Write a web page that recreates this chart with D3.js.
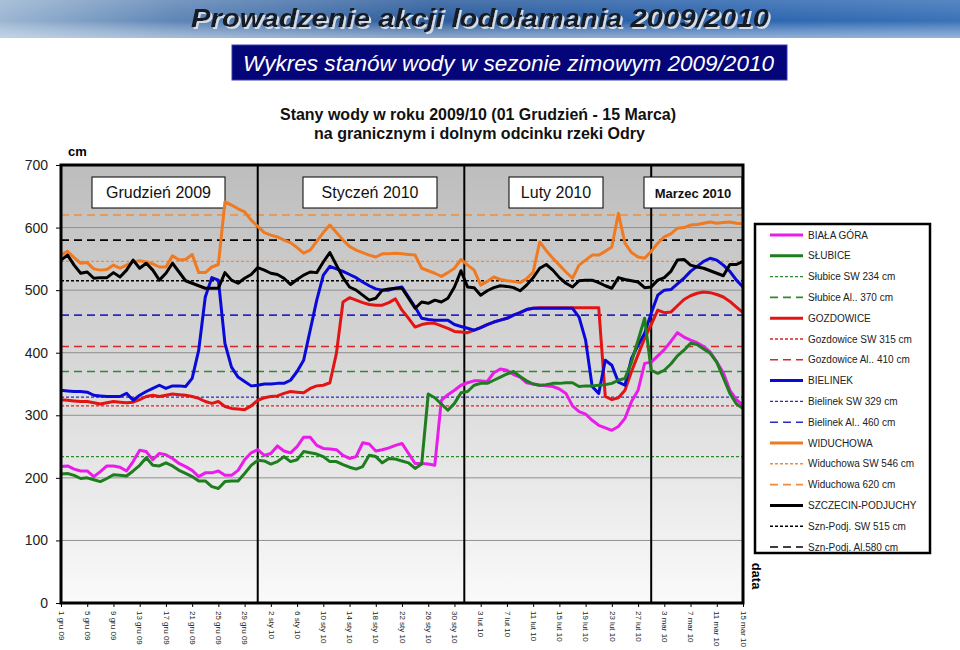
<!DOCTYPE html>
<html>
<head>
<meta charset="utf-8">
<script src="https://cdnjs.cloudflare.com/ajax/libs/d3/7.8.5/d3.min.js"></script>
<style>
  body { margin: 0; background: #fff; }
  svg { display: block; font-family: "Liberation Sans", Arial, sans-serif; }
</style>
</head>
<body>
<div id="chart"></div>
<script>
// ---- data (one value per day, 1 Dec 2009 - 15 Mar 2010) ----
var bialaGora = [218,219,214,211,211,202,210,219,219,217,211,226,244,242,229,239,237,231,223,218,
  212,202,208,208,211,204,204,212,229,240,245,236,239,251,243,240,250,265,265,252,
  247,246,245,236,231,234,256,254,243,245,248,252,255,239,223,223,222,220,324,333,
  340,348,352,355,355,354,368,374,372,365,361,352,350,348,347,346,342,335,315,306,
  302,292,284,280,276,282,295,322,340,383,385,395,405,418,432,425,420,416,410,401,
  385,368,340,325,316];
var slubice = [206,207,204,199,200,197,194,199,205,204,203,211,220,232,220,219,224,219,212,207,
  202,195,195,186,183,194,195,195,207,220,228,227,222,226,234,226,229,242,240,238,
  234,226,226,221,217,214,218,236,234,224,231,230,227,224,215,222,334,328,318,308,
  319,336,338,348,351,351,356,361,366,370,362,355,350,348,349,351,351,352,352,346,
  347,347,348,349,351,356,359,385,420,455,372,367,372,382,395,404,415,413,406,399,
  385,360,335,318,311];
var gozdowice = [325,324,323,322,322,320,318,320,322,321,320,321,325,330,332,330,332,334,333,332,
  330,327,322,319,322,314,311,310,309,315,324,328,330,331,335,338,337,336,343,347,
  348,352,399,481,488,484,480,477,476,476,480,486,468,455,441,445,447,447,443,439,
  434,433,432,436,440,445,449,452,455,460,464,469,471,472,472,472,472,472,472,472,
  472,472,472,330,325,328,340,370,397,423,445,468,464,465,475,485,491,495,497,496,
  493,489,482,473,464];
var bielinek = [340,339,338,338,337,332,331,330,330,330,335,324,332,338,343,348,343,347,347,346,
  359,404,489,520,516,415,377,361,354,347,348,350,350,351,351,356,370,388,436,484,
  524,538,534,530,525,520,513,507,502,500,500,503,505,489,473,455,453,452,452,452,
  445,442,439,436,440,445,449,452,455,460,464,469,471,471,471,471,471,471,471,457,
  420,346,335,388,380,353,348,391,412,431,463,492,500,501,510,519,530,538,546,551,
  548,540,530,516,505];
var widuchowa = [556,562,552,543,544,534,532,533,540,535,540,545,547,545,542,537,537,555,548,549,
  557,528,528,537,541,641,636,630,625,612,602,592,588,585,580,576,568,559,564,578,
  592,604,592,580,570,564,560,556,553,558,558,559,558,557,556,535,531,527,522,528,
  535,549,540,532,508,514,521,517,515,514,512,518,529,577,563,551,540,529,519,540,
  548,556,556,562,569,623,575,560,553,551,562,575,585,590,599,600,604,605,607,609,
  607,608,609,607,606];
var szczecinPodjuchy = [548,556,540,527,529,519,520,520,528,521,532,548,535,543,532,516,527,543,529,515,
  511,507,503,503,503,528,516,511,519,525,536,532,527,525,519,509,517,524,529,528,
  545,560,540,520,505,500,492,484,487,500,502,503,503,487,471,481,479,484,481,487,
  505,531,505,504,492,499,504,507,506,504,499,508,520,535,541,532,520,511,505,515,
  516,516,512,507,503,520,517,515,513,504,505,516,520,530,548,549,540,537,535,531,
  527,523,541,541,546];

var stationNames = ["BIAŁA GÓRA", "SŁUBICE", "GOZDOWICE", "BIELINEK", "WIDUCHOWA", "SZCZECIN-PODJUCHY"];
// warning (SW) and alarm (Al.) levels, cm
var warningLevels = [null, 234, 315, 329, 546, 515];
var alarmLevels = [null, 370, 410, 460, 620, 580];
var warningLabels = [null, "Słubice SW 234 cm", "Gozdowice SW 315 cm", "Bielinek SW 329 cm", "Widuchowa SW 546 cm", "Szn-Podj. SW 515 cm"];
var alarmLabels = [null, "Słubice Al.. 370 cm", "Gozdowice Al.. 410 cm", "Bielinek Al.. 460 cm", "Widuchowa 620 cm", "Szn-Podj. Al.580 cm"];

var tickLabels = ["1 gru 09","5 gru 09","9 gru 09","13 gru 09","17 gru 09","21 gru 09","25 gru 09","29 gru 09",
  "2 sty 10","6 sty 10","10 sty 10","14 sty 10","18 sty 10","22 sty 10","26 sty 10","30 sty 10",
  "3 lut 10","7 lut 10","11 lut 10","15 lut 10","19 lut 10","23 lut 10","27 lut 10",
  "3 mar 10","7 mar 10","11 mar 10","15 mar 10"];
var yTicks = [0, 100, 200, 300, 400, 500, 600, 700];
var monthLabels = ["Grudzień 2009", "Styczeń 2010", "Luty 2010", "Marzec 2010"];

// ---- layout ----
var svgWidth = 960;
var svgHeight = 650;
var plot = { left: 61, top: 165, width: 682, height: 438 };

var colors = ["#ea1cea", "#1e7d1e", "#e31414", "#0a0ad8", "#f07a22", "#000000"];
var refColors = ["#000", "#2f8a2f", "#d22a2a", "#2a2ac2", "#f08c3c", "#000000"];

var svg = d3.select("#chart")
  .append("svg")
  .attr("width", svgWidth)
  .attr("height", svgHeight);

var defs = svg.append("defs");

// banner gradient (sky)
var bannerGrad = defs.append("linearGradient").attr("id", "banner").attr("x1", 0).attr("x2", 1).attr("y1", 0).attr("y2", 0);
bannerGrad.append("stop").attr("offset", "0%").attr("stop-color", "#9cb6d2");
bannerGrad.append("stop").attr("offset", "18%").attr("stop-color", "#5f86b6");
bannerGrad.append("stop").attr("offset", "45%").attr("stop-color", "#2c5c9c");
bannerGrad.append("stop").attr("offset", "75%").attr("stop-color", "#2b64ae");
bannerGrad.append("stop").attr("offset", "100%").attr("stop-color", "#3a72b8");

var hazeGrad = defs.append("linearGradient").attr("id", "haze").attr("x1", 0).attr("x2", 0).attr("y1", 0).attr("y2", 1);
hazeGrad.append("stop").attr("offset", "0%").attr("stop-color", "#ffffff").attr("stop-opacity", 0.15);
hazeGrad.append("stop").attr("offset", "55%").attr("stop-color", "#ffffff").attr("stop-opacity", 0);
hazeGrad.append("stop").attr("offset", "100%").attr("stop-color", "#dfeaf5").attr("stop-opacity", 0.55);

// plot background gradient
var plotGrad = defs.append("linearGradient").attr("id", "plotbg").attr("x1", 0).attr("x2", 0).attr("y1", 0).attr("y2", 1);
plotGrad.append("stop").attr("offset", "0%").attr("stop-color", "#bdbdbd");
plotGrad.append("stop").attr("offset", "50%").attr("stop-color", "#dadada");
plotGrad.append("stop").attr("offset", "100%").attr("stop-color", "#fafafa");

// light shadow under the title
var shadow = defs.append("filter").attr("id", "titleShadow")
  .attr("x", "-5%").attr("y", "-30%").attr("width", "110%").attr("height", "160%");
shadow.append("feDropShadow")
  .attr("dx", 2).attr("dy", 2).attr("stdDeviation", 0.6)
  .attr("flood-color", "#d4dce6").attr("flood-opacity", 1);

// ---- header ----
svg.append("rect").attr("x", 0).attr("y", 0).attr("width", svgWidth).attr("height", 38).attr("fill", "url(#banner)");
svg.append("rect").attr("x", 0).attr("y", 0).attr("width", svgWidth).attr("height", 38).attr("fill", "url(#haze)");

svg.append("text")
  .attr("x", 191).attr("y", 27)
  .attr("textLength", 578).attr("lengthAdjust", "spacingAndGlyphs")
  .style("font-size", "25px").style("font-weight", "bold").style("font-style", "italic")
  .attr("fill", "#141a26")
  .attr("filter", "url(#titleShadow)")
  .text("Prowadzenie akcji lodołamania 2009/2010");

svg.append("rect")
  .attr("x", 232).attr("y", 45).attr("width", 555).attr("height", 35)
  .attr("fill", "#05057a").attr("stroke", "#3a3ab0").attr("stroke-width", 1);
svg.append("text")
  .attr("x", 243).attr("y", 71)
  .attr("textLength", 531).attr("lengthAdjust", "spacingAndGlyphs")
  .style("font-size", "22px").style("font-style", "italic")
  .attr("fill", "#ffffff")
  .text("Wykres stanów wody w sezonie zimowym 2009/2010");

svg.append("text")
  .attr("x", 280).attr("y", 120)
  .attr("textLength", 396).attr("lengthAdjust", "spacingAndGlyphs")
  .style("font-size", "16px").style("font-weight", "bold").attr("fill", "#111")
  .text("Stany wody w roku 2009/10 (01 Grudzień - 15 Marca)");
svg.append("text")
  .attr("x", 314).attr("y", 139)
  .attr("textLength", 331).attr("lengthAdjust", "spacingAndGlyphs")
  .style("font-size", "16px").style("font-weight", "bold").attr("fill", "#111")
  .text("na granicznym i dolnym odcinku rzeki Odry");

// ---- scales ----
var dates = d3.utcDay.range(new Date(Date.UTC(2009, 11, 1)), new Date(Date.UTC(2010, 2, 16)));
var tickDates = dates.filter((d, i) => i % 4 === 0);

var xScale = d3.scaleUtc()
  .domain([dates[0], dates[dates.length - 1]])
  .range([0, plot.width]);

var yScale = d3.scaleLinear()
  .domain([0, 700])
  .range([plot.height, 0]);

var chartGroup = svg.append("g")
  .attr("transform", `translate(${plot.left}, ${plot.top})`);

chartGroup.append("rect")
  .attr("width", plot.width).attr("height", plot.height)
  .attr("fill", "url(#plotbg)");

// gridlines
chartGroup.append("g")
  .selectAll("line")
  .data(yTicks.filter(v => v > 0 && v < 700))
  .enter()
  .append("line")
  .attr("x1", 0).attr("x2", plot.width)
  .attr("y1", d => yScale(d)).attr("y2", d => yScale(d))
  .attr("stroke", "#8f8f8f").attr("stroke-width", 1);

// reference levels
var refGroup = chartGroup.append("g");
stationNames.forEach(function(name, k) {
  if (warningLevels[k] !== null) {
    refGroup.append("line")
      .attr("x1", 0).attr("x2", plot.width)
      .attr("y1", yScale(warningLevels[k])).attr("y2", yScale(warningLevels[k]))
      .attr("stroke", refColors[k]).attr("stroke-width", 1.4)
      .attr("stroke-dasharray", "3,2");
    refGroup.append("line")
      .attr("x1", 0).attr("x2", plot.width)
      .attr("y1", yScale(alarmLevels[k])).attr("y2", yScale(alarmLevels[k]))
      .attr("stroke", refColors[k]).attr("stroke-width", 1.6)
      .attr("stroke-dasharray", "8,5");
  }
});

// month separators
var monthStarts = [new Date(Date.UTC(2009, 11, 31)), new Date(Date.UTC(2010, 0, 31, 12)), new Date(Date.UTC(2010, 2, 1))];
chartGroup.append("g")
  .selectAll("line")
  .data(monthStarts)
  .enter()
  .append("line")
  .attr("x1", d => xScale(d)).attr("x2", d => xScale(d))
  .attr("y1", 0).attr("y2", plot.height)
  .attr("stroke", "#000").attr("stroke-width", 2);

// month boxes
var boxX = [31, 242, 448, 583];
var boxW = [133, 134, 94, 98];
monthLabels.forEach(function(label, k) {
  chartGroup.append("rect")
    .attr("x", boxX[k]).attr("y", 12).attr("width", boxW[k]).attr("height", 31)
    .attr("fill", "#fff").attr("stroke", "#000").attr("stroke-width", 1);
  chartGroup.append("text")
    .attr("x", boxX[k] + boxW[k] / 2).attr("y", 33)
    .attr("text-anchor", "middle")
    .style("font-size", k === 3 ? "13px" : "16px")
    .style("font-weight", k === 3 ? "bold" : "normal")
    .attr("fill", "#111")
    .text(label);
});

// series lines
var seriesValues = [bialaGora, slubice, gozdowice, bielinek, widuchowa, szczecinPodjuchy];
var drawOrder = [2, 3, 0, 1, 4, 5];
var line = d3.line()
  .x((d, i) => xScale(dates[i]))
  .y(d => yScale(d));

drawOrder.forEach(function(k) {
  chartGroup.append("path")
    .datum(seriesValues[k])
    .attr("d", line)
    .attr("fill", "none")
    .attr("stroke", colors[k])
    .attr("stroke-width", 3)
    .attr("stroke-linejoin", "round");
});

// axes
var bottomAxis = d3.axisBottom(xScale)
  .tickValues(tickDates)
  .tickFormat((d, i) => tickLabels[i])
  .tickSize(4);

var xAxis = chartGroup.append("g")
  .attr("transform", `translate(0, ${plot.height})`)
  .call(bottomAxis);
xAxis.select(".domain").remove();
xAxis.selectAll("text")
  .attr("transform", "rotate(90)")
  .attr("x", 8).attr("y", 0).attr("dy", "0.35em")
  .attr("text-anchor", "start")
  .style("font-size", "8px")
  .attr("fill", "#222");

var leftAxis = d3.axisLeft(yScale)
  .tickValues(yTicks)
  .tickSize(5)
  .tickPadding(8);
var yAxis = chartGroup.append("g").call(leftAxis);
yAxis.select(".domain").remove();
yAxis.selectAll("text")
  .style("font-size", "14px")
  .attr("fill", "#222");

// frame
chartGroup.append("rect")
  .attr("width", plot.width).attr("height", plot.height)
  .attr("fill", "none").attr("stroke", "#000").attr("stroke-width", 3);

svg.append("text")
  .attr("x", 68).attr("y", 156)
  .style("font-size", "13px").style("font-weight", "bold")
  .text("cm");

svg.append("text")
  .attr("transform", "translate(757, 576) rotate(90)")
  .attr("text-anchor", "middle").attr("dy", "0.35em")
  .style("font-size", "13px").style("font-weight", "bold")
  .text("data");

// ---- legend ----
var legendItems = [];
stationNames.forEach(function(name, k) {
  legendItems.push({ label: name, color: colors[k], dash: null, width: 3 });
  if (warningLevels[k] !== null) {
    legendItems.push({ label: warningLabels[k], color: refColors[k], dash: "3,2", width: 1.4 });
    legendItems.push({ label: alarmLabels[k], color: refColors[k], dash: "8,5", width: 1.6 });
  }
});

var legend = svg.append("g").attr("transform", "translate(755, 224)");
legend.append("rect")
  .attr("width", 175).attr("height", 329)
  .attr("fill", "#fff").attr("stroke", "#000").attr("stroke-width", 2.5);

var legendRows = legend.selectAll("g.row")
  .data(legendItems)
  .enter()
  .append("g")
  .attr("class", "row")
  .attr("transform", (d, i) => `translate(0, ${11 + i * 20.8})`);

legendRows.append("line")
  .attr("x1", 15).attr("x2", 48)
  .attr("stroke", d => d.color)
  .attr("stroke-width", d => d.width)
  .attr("stroke-dasharray", d => d.dash);

legendRows.append("text")
  .attr("x", 53).attr("dy", "0.35em")
  .style("font-size", "10px")
  .attr("fill", "#222")
  .text(d => d.label);
</script>
</body>
</html>
